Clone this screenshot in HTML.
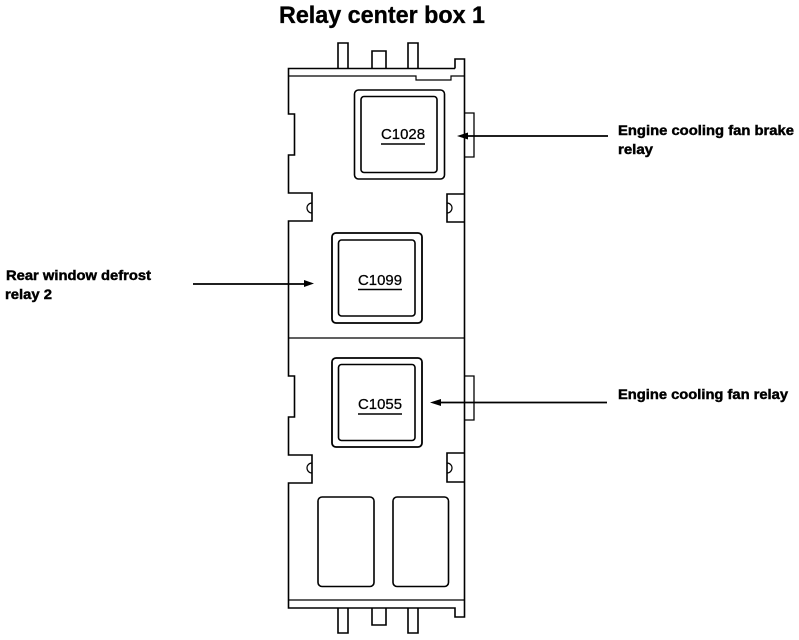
<!DOCTYPE html>
<html>
<head>
<meta charset="utf-8">
<style>
html,body{margin:0;padding:0;background:#fff;width:799px;height:640px;overflow:hidden}
svg{display:block}
text{font-family:"Liberation Sans",Arial,sans-serif;fill:#000}
.t{font-size:24px;font-weight:bold;stroke:#000;stroke-width:.35}
.l{font-size:14px;font-weight:bold;stroke:#000;stroke-width:.45}
.c{font-size:15px;stroke:#000;stroke-width:.25}
</style>
</head>
<body>
<svg width="799" height="640" viewBox="0 0 799 640" xmlns="http://www.w3.org/2000/svg">
<text class="t" x="279" y="23" textLength="206" lengthAdjust="spacingAndGlyphs">Relay center box 1</text>

<g fill="none" stroke="#000" stroke-width="1.600">
<!-- top pins -->
<path d="M338 68V43H348V68M372 68V51H386V68M408 68V43H418V68"/>
<!-- body -->
<path d="M455 68.500H288.500V114H294.500V155H288.500V193H312V221H288.500V376H294.500V417H288.500V455H312V483H288.500V608H455V617H464.500V59H455V68.500"/>
<path d="M288.500 76H416V80H451V76H464.500" stroke-width="1.200"/>
<path d="M288.500 600H464.500" stroke-width="1.200"/>
<path d="M288.500 338H464.500" stroke-width="1.200"/>
<!-- bottom pins -->
<path d="M338 608V633H348V608M372 608V625H386V608M408 608V633H418V608"/>
<!-- right tabs -->
<path d="M465 113H474V157H465M465 376H474V420H465" stroke-width="1.300"/>
<!-- notches -->
<path d="M464 194H447V222H464M464 453H447V482H464"/>
<path d="M312 203A5 5 0 0 0 312 213M312 463A5 5 0 0 0 312 473" stroke-width="1.200"/>
<path d="M447 203A5 5 0 0 1 447 213M447 463A5 5 0 0 1 447 473" stroke-width="1.200"/>
<!-- relay boxes -->
<rect x="354.500" y="90" width="90" height="89" rx="4"/>
<rect x="361" y="96.500" width="76" height="76" rx="3"/>
<rect x="332" y="233" width="90" height="90" rx="4" stroke-width="1.800"/>
<rect x="338.500" y="240" width="76.500" height="76" rx="3"/>
<rect x="332" y="358" width="90" height="89" rx="4" stroke-width="1.800"/>
<rect x="338.500" y="364.500" width="76.500" height="76" rx="3"/>
<!-- lower rects -->
<rect x="318" y="497" width="56" height="89.500" rx="4"/>
<rect x="393" y="497" width="55.500" height="89.500" rx="4"/>
</g>

<text class="c" x="381" y="139" textLength="44" lengthAdjust="spacingAndGlyphs">C1028</text>
<path d="M381 144H425" stroke="#000" stroke-width="1.400"/>
<text class="c" x="358" y="285" textLength="44" lengthAdjust="spacingAndGlyphs">C1099</text>
<path d="M358 289.500H402" stroke="#000" stroke-width="1.400"/>
<text class="c" x="358" y="409" textLength="44" lengthAdjust="spacingAndGlyphs">C1055</text>
<path d="M358 414H402" stroke="#000" stroke-width="1.400"/>

<!-- arrows -->
<g stroke="#000" stroke-width="1.800" fill="#000">
<path d="M608 136H465" fill="none"/>
<path d="M457 136L468 132.500V139.500Z" stroke="none"/>
<path d="M193 284H306" fill="none"/>
<path d="M314 283.500L304 280V287Z" stroke="none"/>
<path d="M607 402.500H440" fill="none"/>
<path d="M430 402.500L441 399V406Z" stroke="none"/>
</g>

<text class="l" x="618" y="135" textLength="176" lengthAdjust="spacingAndGlyphs">Engine cooling fan brake</text>
<text class="l" x="618" y="154" textLength="35" lengthAdjust="spacingAndGlyphs">relay</text>
<text class="l" x="6" y="280" textLength="145" lengthAdjust="spacingAndGlyphs">Rear window defrost</text>
<text class="l" x="5" y="299" textLength="47" lengthAdjust="spacingAndGlyphs">relay 2</text>
<text class="l" x="618" y="399" textLength="170" lengthAdjust="spacingAndGlyphs">Engine cooling fan relay</text>
</svg>
</body>
</html>
